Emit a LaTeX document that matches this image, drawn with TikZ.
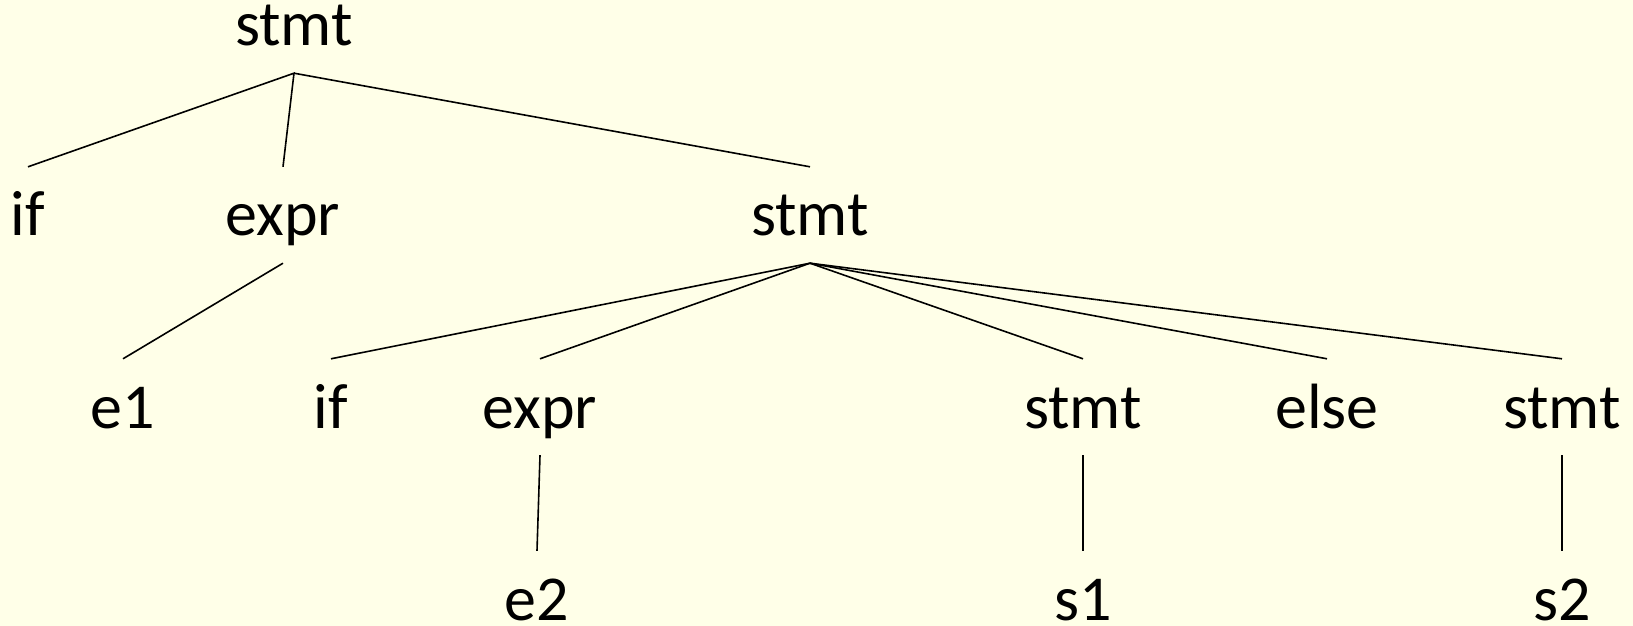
\documentclass[tikz,border=0pt]{standalone}
\usepackage{fontspec}
\setmainfont{Carlito}
\definecolor{paper}{RGB}{255,255,232}
\begin{document}
\begin{tikzpicture}[x=1bp,y=-1bp,
  lbl/.style={inner sep=0pt, anchor=base, text height=69bp, text depth=27bp,
              font=\fontsize{64bp}{70bp}\selectfont},
  leaf/.style={lbl, text depth=2bp},
  edge/.style={draw=black, line width=1.6bp}]
\useasboundingbox (0,0) rectangle (1633,626);
\fill[paper] (0,0) rectangle (1633,626);

% parse tree labels
\node[lbl] (root)  at (294,46)   {stmt};
\node[lbl] (if1)   at (28,236)   {if};
\node[lbl] (expr1) at (283,236)  {expr};
\node[lbl] (stmt1) at (810,236)  {stmt};
\node[lbl] (e1)    at (123,428)  {e1};
\node[lbl] (if2)   at (331,428)  {if};
\node[lbl] (expr2) at (540,428)  {expr};
\node[lbl] (stmt2) at (1083,428) {stmt};
\node[lbl] (else)  at (1327,428) {else};
\node[lbl] (stmt3) at (1562,428) {stmt};
\node[leaf] (e2)   at (537,620)  {e2};
\node[leaf] (s1)   at (1083,620) {s1};
\node[leaf] (s2)   at (1562,620) {s2};

% tree edges
\draw[edge] (if1.north) -- (root.south) -- (expr1.north);
\draw[edge] (root.south) -- (stmt1.north);
\draw[edge] (expr1.south) -- (e1.north);
\foreach \c in {if2,expr2,stmt2,else,stmt3}
  \draw[edge] (stmt1.south) -- (\c.north);
\draw[edge] (expr2.south) -- (e2.north);
\draw[edge] (stmt2.south) -- (s1.north);
\draw[edge] (stmt3.south) -- (s2.north);
\end{tikzpicture}
\end{document}
